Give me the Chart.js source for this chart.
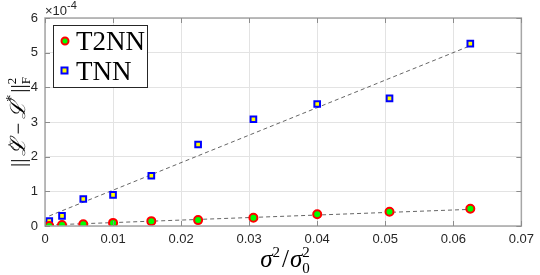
<!DOCTYPE html>
<html><head><meta charset="utf-8">
<script src="https://cdn.jsdelivr.net/npm/chart.js@4"></script>
<style>html,body{margin:0;padding:0;background:#fff}#w{width:540px;height:275px}</style>
</head><body><div id="w"><canvas id="c" width="540" height="275"></canvas></div>
<script>
// Data (y values in units of 1e-4 are converted when building datasets)
const xValues = [0.000625, 0.0025, 0.005625, 0.01, 0.015625, 0.0225, 0.030625, 0.04, 0.050625, 0.0625];
const t2nnValues = [0.00, 0.03, 0.05, 0.09, 0.14, 0.17, 0.24, 0.34, 0.41, 0.50];
const tnnValues = [0.14, 0.29, 0.78, 0.90, 1.45, 2.35, 3.08, 3.52, 3.68, 5.26];
const t2nnFitX = [0.000625, 0.0625];
const t2nnFitY = [0.03, 0.48];
const tnnFitX = [0.000625, 0.0625];
const tnnFitY = [0.29, 5.20];
const xTicks = [0, 0.01, 0.02, 0.03, 0.04, 0.05, 0.06, 0.07];
const yTicks = [0, 1, 2, 3, 4, 5, 6];
const legendLabels = ['T2NN', 'TNN'];
const SCALE = 1e-4;

const pts = (xs, ys) => xs.map((x, i) => ({x: x, y: ys[i] * SCALE}));

function drawRich(ctx, parts, x, y) {
  let cx = x;
  for (const p of parts) {
    ctx.font = p.font;
    if (p.t !== undefined) {
      const w = ctx.measureText(p.t).width;
      ctx.fillText(p.t, cx, y + (p.dy || 0));
      if (p.hat) {
        ctx.font = p.hatFont;
        const hw = ctx.measureText('^').width;
        ctx.fillText('^', cx + w / 2 - hw / 2 + (p.hatDx || 0), y + p.hatDy);
      }
      cx += w + (p.sp || 0);
    } else {
      let w = 0;
      if (p.sup) { ctx.fillText(p.sup, cx, y + p.supDy); w = Math.max(w, ctx.measureText(p.sup).width); }
      if (p.sub) { ctx.fillText(p.sub, cx, y + p.subDy); w = Math.max(w, ctx.measureText(p.sub).width); }
      cx += w + (p.sp || 0);
    }
  }
  return cx - x;
}

const matlabPlugin = {
  id: 'matlab',
  afterDatasetsDraw(chart) {
    const ctx = chart.ctx, a = chart.chartArea;
    const xs = chart.scales.x, ys = chart.scales.y;
    ctx.save();
    ctx.strokeStyle = '#a6a6a6';
    ctx.lineWidth = 1.5;
    ctx.strokeRect(a.left, a.top, a.right - a.left, a.bottom - a.top);
    ctx.strokeStyle = '#8c8c8c';
    ctx.lineWidth = 1;
    ctx.beginPath();
    for (const v of xTicks) {
      const px = Math.round(xs.getPixelForValue(v)) + 0.5;
      ctx.moveTo(px, a.bottom); ctx.lineTo(px, a.bottom - 5);
      ctx.moveTo(px, a.top); ctx.lineTo(px, a.top + 5);
    }
    for (const v of yTicks) {
      const py = Math.round(ys.getPixelForValue(v * SCALE)) + 0.5;
      ctx.moveTo(a.left, py); ctx.lineTo(a.left + 5, py);
      ctx.moveTo(a.right, py); ctx.lineTo(a.right - 5, py);
    }
    ctx.stroke();
    // exponent
    ctx.fillStyle = '#262626';
    ctx.textBaseline = 'alphabetic';
    ctx.textAlign = 'left';
    drawRich(ctx, [
      {t: '\u00d710', font: '13px "Liberation Sans", Arial, sans-serif'},
      {t: '-4', font: '11px "Liberation Sans", Arial, sans-serif', dy: -6}
    ], 45, 15);
    // legend
    const lx = 53, ly = 25, lw = 94, lh = 62;
    ctx.fillStyle = '#fff';
    ctx.fillRect(lx, ly, lw, lh);
    ctx.strokeStyle = '#262626';
    ctx.lineWidth = 1;
    ctx.strokeRect(lx + 0.5, ly + 0.5, lw, lh);
    ctx.beginPath();
    ctx.arc(65, 41, 3.5, 0, Math.PI * 2);
    ctx.fillStyle = '#00ff00'; ctx.fill();
    ctx.strokeStyle = '#ff0000'; ctx.lineWidth = 2; ctx.stroke();
    ctx.fillStyle = '#ffff00';
    ctx.fillRect(61.5, 67.5, 6, 6);
    ctx.strokeStyle = '#0000ff'; ctx.lineWidth = 2;
    ctx.strokeRect(61.5, 67.5, 6, 6);
    ctx.fillStyle = '#000';
    ctx.font = '27px "Liberation Serif", "Times New Roman", serif';
    ctx.fillText(legendLabels[0], 76, 50);
    ctx.fillText(legendLabels[1], 76, 80);
    // x title
    const xParts = [
      {t: '\u03c3', font: 'italic 25px "Liberation Serif", serif'},
      {sup: '2', supDy: -10, font: '15px "Liberation Serif", serif', sp: 2},
      {t: '/', font: '25px "Liberation Serif", serif', sp: 1},
      {t: '\u03c3', font: 'italic 25px "Liberation Serif", serif'},
      {sup: '2', supDy: -10, sub: '0', subDy: 6, font: '15px "Liberation Serif", serif'}
    ];
    ctx.fillStyle = '#000';
    const measure = document.createElement('canvas').getContext('2d');
    const xw = drawRich(measure, xParts, 0, 0);
    drawRich(ctx, xParts, 285 - xw / 2, 267);
    // y title
    const yParts = [
      {t: '||', font: '21px "Liberation Serif", serif', sp: 3},
      {t: '\u2112', font: 'italic 21px "DejaVu Serif", serif', sp: 4,
       hat: true, hatFont: '13px "Liberation Serif", serif', hatDy: -9, hatDx: 2},
      {t: '\u2212', font: '21px "Liberation Serif", serif', sp: 4},
      {t: '\u2112', font: 'italic 21px "DejaVu Serif", serif'},
      {sup: '*', supDy: -9, font: '14px "Liberation Serif", serif', sp: 2},
      {t: '||', font: '21px "Liberation Serif", serif'},
      {sup: '2', supDy: -9, sub: 'F', subDy: 5, font: '13px "Liberation Serif", serif'}
    ];
    const yw = drawRich(measure, yParts, 0, 0);
    ctx.translate(25, 122);
    ctx.rotate(-Math.PI / 2);
    drawRich(ctx, yParts, -yw / 2, 0);
    ctx.restore();
  }
};

new Chart(document.getElementById('c'), {
  type: 'scatter',
  data: {
    datasets: [
      {label: 'T2NN fit', data: pts(t2nnFitX, t2nnFitY), showLine: true, pointRadius: 0,
       borderColor: '#666', borderWidth: 1, borderDash: [4, 3], order: 3},
      {label: 'TNN fit', data: pts(tnnFitX, tnnFitY), showLine: true, pointRadius: 0,
       borderColor: '#666', borderWidth: 1, borderDash: [4, 3], order: 3},
      {label: legendLabels[0], data: pts(xValues, t2nnValues), pointStyle: 'circle', pointRadius: 4,
       backgroundColor: '#00ff00', borderColor: '#ff0000', borderWidth: 2, order: 1},
      {label: legendLabels[1], data: pts(xValues, tnnValues), pointStyle: 'rect', pointRadius: 4,
       backgroundColor: '#ffff00', borderColor: '#0000ff', borderWidth: 2, order: 2}
    ]
  },
  options: {
    responsive: false,
    animation: false,
    devicePixelRatio: 1,
    layout: {padding: {top: 18, right: 13, left: 0, bottom: 0}},
    plugins: {legend: {display: false}, tooltip: {enabled: false}},
    scales: {
      x: {
        type: 'linear', min: 0, max: 0.07,
        afterFit(s) { s.height = 49; },
        afterBuildTicks(s) { s.ticks = xTicks.map(v => ({value: v})); },
        grid: {color: '#e3e3e3', lineWidth: 1, tickLength: 0, drawTicks: false},
        border: {display: false},
        ticks: {color: '#262626', padding: 6, maxRotation: 0,
          font: {family: '"Liberation Sans", Arial, sans-serif', size: 13},
          callback: v => v === 0 ? '0' : Number(v).toFixed(2)}
      },
      y: {
        type: 'linear', min: 0, max: 6 * SCALE,
        afterFit(s) { s.width = 45; },
        afterBuildTicks(s) { s.ticks = yTicks.map(v => ({value: v * SCALE})); },
        grid: {color: '#e3e3e3', lineWidth: 1, tickLength: 0, drawTicks: false},
        border: {display: false},
        ticks: {color: '#262626', padding: 7,
          font: {family: '"Liberation Sans", Arial, sans-serif', size: 13},
          callback: v => String(Math.round(v / SCALE))}
      }
    }
  },
  plugins: [matlabPlugin]
});
</script>
</body></html>
